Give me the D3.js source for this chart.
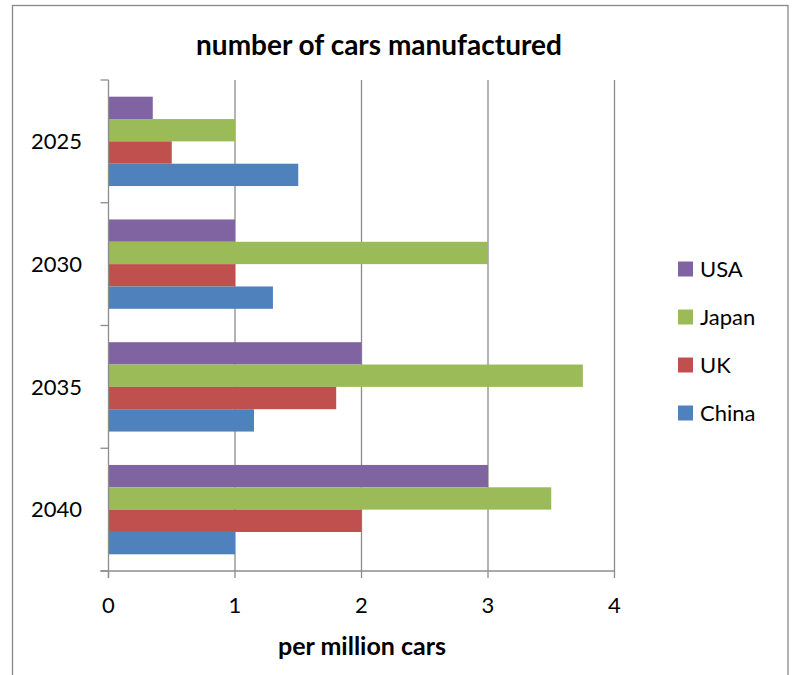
<!DOCTYPE html>
<html><head><meta charset="utf-8">
<script src="https://cdn.jsdelivr.net/npm/d3@7"></script>
<style>body{margin:0;background:#fff}svg{display:block}</style>
</head><body>
<svg id="c" width="793" height="675"></svg>
<script>
const categories = ["2025", "2030", "2035", "2040"];
const seriesNames = ["USA", "Japan", "UK", "China"];
const usa   = [0.35, 1.0, 2.0, 3.0];
const japan = [1.0, 3.0, 3.75, 3.5];
const uk    = [0.5, 1.0, 1.8, 2.0];
const china = [1.5, 1.3, 1.15, 1.0];
const xTicks = [0, 1, 2, 3, 4];
const colors = ["#8064A2", "#9BBB59", "#C0504D", "#4F81BD"];
const seriesValues = [usa, japan, uk, china];

const font = "Lato, 'Open Sans', sans-serif";
const svg = d3.select("#c");

// outer frame
svg.append("rect").attr("x", 12.5).attr("y", 5.5).attr("width", 775.5).attr("height", 680)
  .attr("fill", "#fff").attr("stroke", "#898989").attr("stroke-width", 1.3);

const L = 108.5, R = 614.5, T = 80, B = 571;
const x = d3.scaleLinear().domain([0, 4]).range([L, R]);
const y = d3.scaleBand().domain(categories).range([T, B]).paddingInner(0.272).paddingOuter(0.136);
const yi = d3.scaleBand().domain(seriesNames).range([0, y.bandwidth()]);

// gridlines
svg.append("g").selectAll("line").data(xTicks.slice(1)).join("line")
  .attr("x1", d => x(d)).attr("x2", d => x(d)).attr("y1", T).attr("y2", B)
  .attr("stroke", "#8c8c8c").attr("stroke-width", 1.3);

// bars
const g = svg.append("g");
categories.forEach((c, ci) => {
  seriesNames.forEach((s, si) => {
    g.append("rect")
      .attr("x", x(0)).attr("y", y(c) + yi(s))
      .attr("width", x(seriesValues[si][ci]) - x(0)).attr("height", yi.bandwidth())
      .attr("fill", colors[si]);
  });
});

// y axis line and ticks at band boundaries
const axisColor = "#8c8c8c";
svg.append("line").attr("x1", L).attr("x2", L).attr("y1", T).attr("y2", B + 7)
  .attr("stroke", axisColor).attr("stroke-width", 1.3);
const yBounds = d3.range(categories.length + 1).map(i => T + i * (B - T) / categories.length);
svg.append("g").selectAll("line").data(yBounds).join("line")
  .attr("x1", L - 8).attr("x2", L).attr("y1", d => d).attr("y2", d => d)
  .attr("stroke", axisColor).attr("stroke-width", 1.3);
// x axis line and ticks
svg.append("line").attr("x1", L - 8).attr("x2", R).attr("y1", B).attr("y2", B)
  .attr("stroke", axisColor).attr("stroke-width", 1.3);
svg.append("g").selectAll("line").data(xTicks).join("line")
  .attr("x1", d => x(d)).attr("x2", d => x(d)).attr("y1", B).attr("y2", B + 7)
  .attr("stroke", axisColor).attr("stroke-width", 1.3);

// y labels
svg.append("g").selectAll("text").data(categories).join("text")
  .attr("x", 82).attr("y", d => y(d) + y.bandwidth() / 2)
  .attr("dy", "0.35em").attr("text-anchor", "end")
  .attr("font-family", font).attr("font-size", 22).attr("fill", "#000").text(d => d);
// x labels
svg.append("g").selectAll("text").data(xTicks).join("text")
  .attr("x", d => x(d)).attr("y", 613)
  .attr("text-anchor", "middle")
  .attr("font-family", font).attr("font-size", 22).attr("fill", "#000").text(d => d);

// title
svg.append("text").attr("x", 379).attr("y", 55).attr("text-anchor", "middle")
  .attr("font-family", font).attr("font-weight", "bold").attr("font-size", 28)
  .text("number of cars manufactured");
// x-axis title
svg.append("text").attr("x", 362).attr("y", 655).attr("text-anchor", "middle")
  .attr("font-family", font).attr("font-weight", "bold").attr("font-size", 25)
  .text("per million cars");

// legend
const leg = svg.append("g");
seriesNames.forEach((s, i) => {
  const cy = 269 + i * 48;
  leg.append("rect").attr("x", 678).attr("y", cy - 7.5).attr("width", 15).attr("height", 15).attr("fill", colors[i]);
  leg.append("text").attr("x", 700).attr("y", cy).attr("dy", "0.35em")
    .attr("font-family", font).attr("font-size", 22).text(s);
});
</script>
</body></html>
